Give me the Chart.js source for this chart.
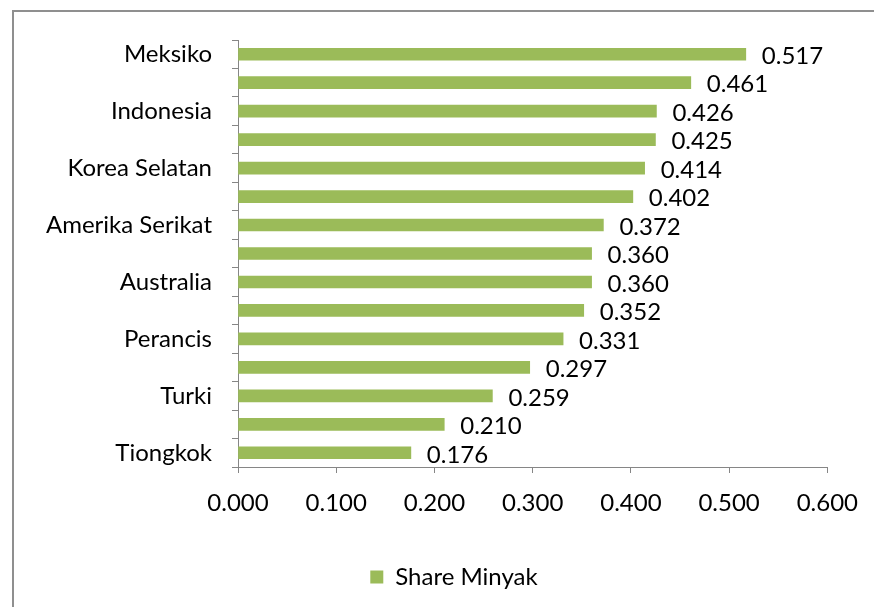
<!DOCTYPE html>
<html>
<head>
<meta charset="utf-8">
<script src="https://cdn.jsdelivr.net/npm/chart.js@4/dist/chart.umd.min.js"></script>
<style>
  html, body { margin: 0; padding: 0; background: #fff; }
  #wrap { position: relative; width: 874px; height: 607px; }
  #frame { position: absolute; left: 12px; top: 10px; right: -10px; bottom: -10px;
           border-left: 2px solid #8f8f8f; border-top: 2px solid #8f8f8f; }
  canvas { position: absolute; left: 0; top: 0; }
</style>
</head>
<body>
<div id="wrap">
  <div id="frame"></div>
  <canvas id="c" width="874" height="607"></canvas>
</div>
<script>
const categories = ["Meksiko", "", "Indonesia", "", "Korea Selatan", "", "Amerika Serikat", "", "Australia", "", "Perancis", "", "Turki", "", "Tiongkok"];
const shareMinyak = [0.517, 0.461, 0.426, 0.425, 0.414, 0.402, 0.372, 0.360, 0.360, 0.352, 0.331, 0.297, 0.259, 0.210, 0.176];
const xTicks = [0.0, 0.1, 0.2, 0.3, 0.4, 0.5, 0.6];
const seriesName = "Share Minyak";

const FONT = "Lato, 'Liberation Sans', sans-serif";
const FS = 24;

const valueLabels = {
  id: 'valueLabels',
  afterDatasetsDraw(chart) {
    const ctx = chart.ctx;
    const meta = chart.getDatasetMeta(0);
    ctx.save();
    ctx.font = FS + "px " + FONT;
    ctx.fillStyle = "#000";
    ctx.textAlign = "left";
    ctx.textBaseline = "middle";
    meta.data.forEach((bar, i) => {
      const v = chart.data.datasets[0].data[i];
      ctx.fillText(v.toFixed(3), bar.x + 16, bar.y + 2);
    });
    ctx.restore();
  }
};

// shift the legend to the right, as in the reference
const legendShift = {
  id: 'legendShift',
  afterLayout(chart) {
    if (chart.legend) { chart.legend.left += 60; }
  }
};

new Chart(document.getElementById('c'), {
  type: 'bar',
  data: {
    labels: categories,
    datasets: [{
      label: seriesName,
      data: shareMinyak,
      backgroundColor: '#9bbb59',
      borderWidth: 0,
      barThickness: 12
    }]
  },
  options: {
    indexAxis: 'y',
    responsive: false,
    animation: false,
    devicePixelRatio: 1,
    layout: { padding: { left: 20, right: 46, top: 40, bottom: 8 } },
    scales: {
      x: {
        min: 0, max: 0.6,
        afterBuildTicks(scale) { scale.ticks = xTicks.map(v => ({ value: v })); },
        ticks: {
          color: '#000',
          font: { family: FONT, size: FS },
          padding: 16,
          callback: v => Number(v).toFixed(3)
        },
        grid: { drawOnChartArea: false, drawTicks: true, tickLength: 6, color: '#868686' },
        border: { color: '#868686', width: 1 },
        afterFit(scale) { scale.height = 88; }
      },
      y: {
        offset: true,
        ticks: {
          color: '#000',
          font: { family: FONT, size: FS },
          padding: 20,
          autoSkip: false
        },
        grid: { offset: true, drawOnChartArea: false, drawTicks: true, tickLength: 6, color: '#868686' },
        border: { color: '#868686', width: 1 },
        afterFit(scale) { scale.width = 218; }
      }
    },
    plugins: {
      tooltip: { enabled: false },
      legend: {
        position: 'bottom',
        labels: {
          color: '#000',
          font: { family: FONT, size: FS },
          boxWidth: 13,
          boxHeight: 13,
          padding: 10
        }
      }
    }
  },
  plugins: [valueLabels, legendShift]
});
</script>
</body>
</html>
